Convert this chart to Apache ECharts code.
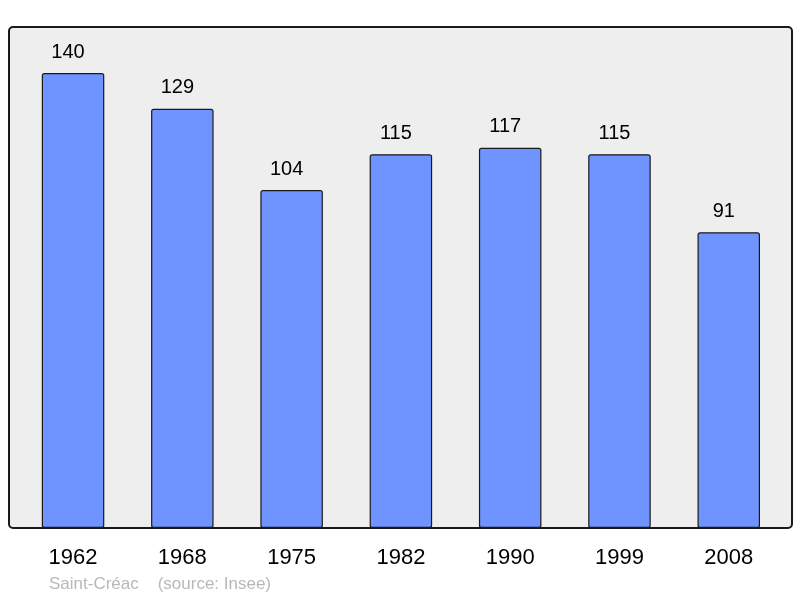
<!DOCTYPE html>
<html>
<head>
<meta charset="utf-8">
<script src="https://cdn.jsdelivr.net/npm/echarts@6/dist/echarts.min.js"></script>
<style>
  html, body { margin: 0; padding: 0; background: #fff; }
  #chart { width: 800px; height: 598px; }
</style>
</head>
<body>
<div id="chart"></div>
<script>
const years = ['1962', '1968', '1975', '1982', '1990', '1999', '2008']
const population = [140, 129, 104, 115, 117, 115, 91]
const footer = 'Saint-Créac    (source: Insee)'

const chart = echarts.init(document.getElementById('chart'))
chart.setOption({
  animation: false,
  textStyle: { fontFamily: 'Liberation Sans, Arial, sans-serif' },
  graphic: [
    {
      type: 'rect',
      z: -10,
      shape: { x: 9, y: 27, width: 783, height: 501, r: 4 },
      style: { fill: '#eeeeee', stroke: '#1a1a1a', lineWidth: 2 }
    },
    {
      type: 'text',
      x: 49,
      y: 584,
      style: {
        text: footer,
        fill: '#b8b8b8',
        fontSize: 17,
        verticalAlign: 'middle',
        fontFamily: 'Liberation Sans, Arial, sans-serif'
      }
    }
  ],
  grid: {
    left: 18.4,
    width: 765,
    top: 27,
    height: 501,
    containLabel: false
  },
  xAxis: {
    type: 'category',
    data: years,
    axisLine: { show: false },
    axisTick: { show: false },
    axisLabel: { color: '#000', fontSize: 22, margin: 19 }
  },
  yAxis: {
    type: 'value',
    min: 0,
    max: 154.15,
    show: false,
    splitLine: { show: false }
  },
  series: [{
    type: 'bar',
    data: population,
    barWidth: 62.5,
    itemStyle: {
      color: '#7094ff',
      borderColor: '#1a1a1a',
      borderWidth: 1.2,
      borderRadius: 2
    },
    label: {
      show: true,
      position: 'top',
      distance: 11,
      offset: [-5, 0],
      color: '#000',
      fontSize: 20
    }
  }]
})
</script>
</body>
</html>
